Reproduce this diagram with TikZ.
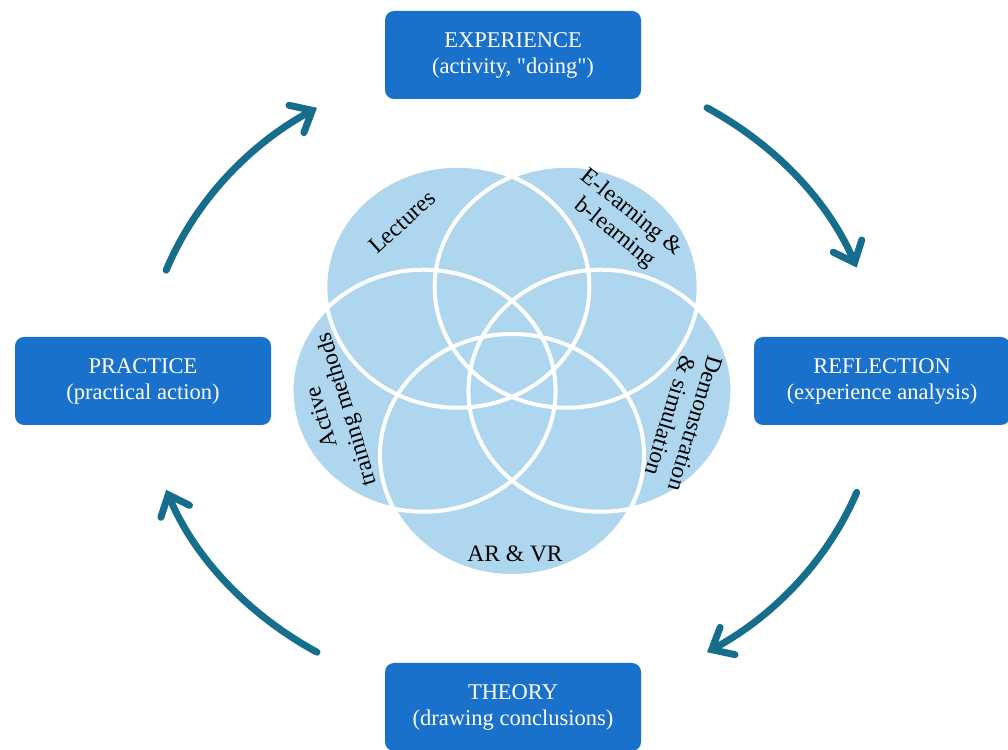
\documentclass[tikz,border=0pt]{standalone}
\usepackage{fontspec}
\setmainfont{Liberation Serif}[Ligatures=TeXOff]
\usetikzlibrary{arrows.meta}

\definecolor{boxblue}{RGB}{26,113,204}
\definecolor{vennblue}{RGB}{174,214,238}
\definecolor{cycleteal}{RGB}{22,110,140}

\begin{document}
\begin{tikzpicture}[x=1pt, y=1pt,
                    box/.style={
                    fill=boxblue,
                    rounded corners=9pt,
                    text=white,
                    text centered,
                    minimum width=256pt,
                    minimum height=88pt,
                    font=\fontsize{22.5}{26}\selectfont,
                    align=center,
                    anchor=center,
                    },
                    lbl/.style={
                    font=\fontsize{23.5}{26}\selectfont,
                    align=center,
                    },
                    cyc/.style={
                    draw=cycleteal,
                    line width=7pt,
                    line cap=round,
                    -{Straight Barb[length=18pt, width=31pt, line cap=round]},
                    } ]

\useasboundingbox (0,0) rectangle (1008,749);

% five overlapping sets, filled first, outlined after
\coordinate (venn) at (512,387);
\foreach \a in {126,54,-18,-90,198}
    \fill[vennblue] (venn) ++(\a:93) ellipse[x radius=132, y radius=121];
\foreach \a in {126,54,-18,-90,198}
    \draw[white, line width=4pt] (venn) ++(\a:93) ellipse[x radius=132, y radius=121];

\node[lbl, rotate=42] (lectures) at (402,527) {Lectures};
\node[lbl, rotate=-39] (elearning) at (623,526) {E-learning \&\\ b-learning};
\node[lbl, rotate=-107] (demo) at (683,329) {Demonstration\\ \& simulation};
\node[lbl, rotate=107] (active) at (336,336) {Active\\ training methods};
\node[lbl] (arvr) at (515,195) {AR \& VR};

% the four stages
\draw
(513,694) node[box] (experience) {EXPERIENCE\\ (activity, "doing")}
(882,368) node[box] (reflection) {REFLECTION\\ (experience analysis)}
(513,42) node[box] (theory) {THEORY\\ (drawing conclusions)}
(143,368) node[box] (practice) {PRACTICE\\ (practical action)}
;

% cycle arrows
\coordinate (hub) at (512,369);
\foreach \s/\e in {160/122, 58/20.5, -20.5/-58, -122/-160}
    \draw[cyc] (hub) ++(\s:368pt and 321pt) arc[start angle=\s, end angle=\e, x radius=368, y radius=321];

\end{tikzpicture}
\end{document}
